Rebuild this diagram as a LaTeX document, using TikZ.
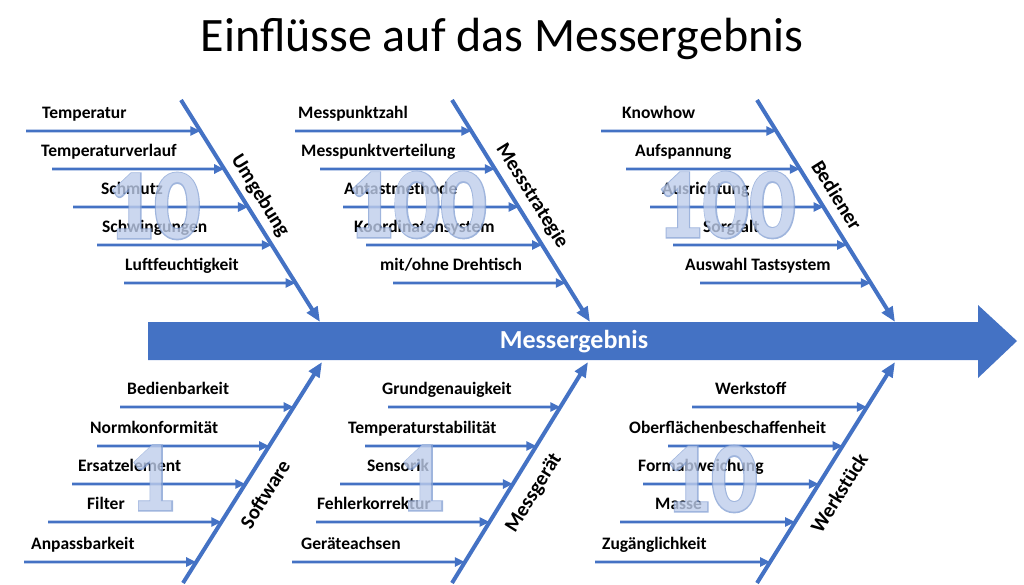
\documentclass[tikz,border=0pt]{standalone}
\usepackage{fontspec}
\setmainfont{Carlito}
\newfontfamily\numfont[BoldFont={Carlito Bold}, BoldFeatures={FakeBold=2.5}]{Carlito}
\usetikzlibrary{arrows.meta,calc}

\definecolor{fishblue}{RGB}{68,114,196}
\definecolor{numfill}{RGB}{190,205,235}
\definecolor{numline}{RGB}{135,162,212}

\tikzset{
  spine/.style={fishblue, line width=4pt, -{Triangle[length=15pt,width=12pt]}},
  cause/.style={fishblue, line width=2.6pt, -{Triangle[length=10pt,width=9pt]}},
  causetext/.style={anchor=base west, inner sep=0pt, font=\bfseries\fontsize{17.5}{19}\selectfont},
  spinetext/.style={inner sep=0pt, font=\bfseries\fontsize{20.5}{22}\selectfont},
  numshape/.style={inner sep=0pt, xscale=0.92, font=\bfseries\fontsize{100}{100}\selectfont},
  numedge/.style={numshape, text=numline, font=\numfont\bfseries\fontsize{100}{100}\selectfont},
  numface/.style={numshape, text=numfill}
}

\begin{document}
\begin{tikzpicture}[x=1pt, y=-1pt]
\useasboundingbox (0,0) rectangle (1024,585);

% title
\node[anchor=base, font=\fontsize{48}{50}\selectfont] (title) at (502,52) {Einflüsse auf das Messergebnis};

% main arrow
\fill[fishblue] (148,322) -- (978,322) -- (978,305) -- (1017,341) -- (978,378) -- (978,360) -- (148,360) -- cycle;
\node[white, inner sep=0pt, font=\bfseries\fontsize{26}{28}\selectfont] (result) at (574,342) {Messergebnis};

% spines
\coordinate (umg-top) at (181,100); \coordinate (umg-tip) at (320,322);
\coordinate (mst-top) at (452,100); \coordinate (mst-tip) at (590,322);
\coordinate (bed-top) at (757,100); \coordinate (bed-tip) at (895,322);
\coordinate (sw-bot) at (183,583); \coordinate (sw-tip) at (322,362);
\coordinate (mg-bot) at (452,583); \coordinate (mg-tip) at (588,362);
\coordinate (ws-bot) at (757,583); \coordinate (ws-tip) at (895,362);

\draw[spine] (umg-top) -- (umg-tip);
\draw[spine] (mst-top) -- (mst-tip);
\draw[spine] (bed-top) -- (bed-tip);
\draw[spine] (sw-bot) -- (sw-tip);
\draw[spine] (mg-bot) -- (mg-tip);
\draw[spine] (ws-bot) -- (ws-tip);

\node[spinetext, rotate=-58] (umg) at (260,196) {Umgebung};
\node[spinetext, rotate=-58] (mst) at (532,196) {Messstrategie};
\node[spinetext, rotate=-58] (bed) at (837,195) {Bediener};
\node[spinetext, rotate=58] (sw) at (265,494) {Software};
\node[spinetext, rotate=58] (mg) at (534,493) {Messgerät};
\node[spinetext, rotate=58] (ws) at (839,493) {Werkstück};

% causes, upper half
\foreach \y/\sx/\lx/\txt [count=\i] in {131/26/42/Temperatur, 169/52/41/Temperaturverlauf,
    207/73/101/Schmutz, 245/97/102/Schwingungen, 283/124/125/Luftfeuchtigkeit}{
  \coordinate (umg-s\i) at (\sx,\y);
  \coordinate (umg-e\i) at ($(umg-top)!{(\y-100)/222}!(umg-tip)$);
  \draw[cause] (umg-s\i) -- (umg-e\i);
  \node[causetext] (umg-l\i) at (\lx,\y-12.5) {\txt};
}
\foreach \y/\sx/\lx/\txt [count=\i] in {131/295/298/Messpunktzahl, 169/320/301/Messpunktverteilung,
    207/343/344/Antastmethode, 245/366/354/Koordinatensystem, 283/393/380/{mit/ohne Drehtisch}}{
  \coordinate (mst-s\i) at (\sx,\y);
  \coordinate (mst-e\i) at ($(mst-top)!{(\y-100)/222}!(mst-tip)$);
  \draw[cause] (mst-s\i) -- (mst-e\i);
  \node[causetext] (mst-l\i) at (\lx,\y-12.5) {\txt};
}
\foreach \y/\sx/\lx/\txt [count=\i] in {131/601/622/Knowhow, 169/626/635/Aufspannung,
    207/650/662/Ausrichtung, 245/673/703/Sorgfalt, 283/700/685/Auswahl Tastsystem}{
  \coordinate (bed-s\i) at (\sx,\y);
  \coordinate (bed-e\i) at ($(bed-top)!{(\y-100)/222}!(bed-tip)$);
  \draw[cause] (bed-s\i) -- (bed-e\i);
  \node[causetext] (bed-l\i) at (\lx,\y-12.5) {\txt};
}

% causes, lower half
\foreach \y/\sx/\lx/\txt [count=\i] in {407/120/127/Bedienbarkeit, 446/97/90/Normkonformität,
    484/72/78/Ersatzelement, 522/48/87/Filter, 562/24/31/Anpassbarkeit}{
  \coordinate (sw-s\i) at (\sx,\y);
  \coordinate (sw-e\i) at ($(sw-bot)!{(583-\y)/221}!(sw-tip)$);
  \draw[cause] (sw-s\i) -- (sw-e\i);
  \node[causetext] (sw-l\i) at (\lx,\y-12.5) {\txt};
}
\foreach \y/\sx/\lx/\txt [count=\i] in {407/388/382/Grundgenauigkeit, 446/365/348/Temperaturstabilität,
    484/340/367/Sensorik, 522/316/317/Fehlerkorrektur, 562/292/301/Geräteachsen}{
  \coordinate (mg-s\i) at (\sx,\y);
  \coordinate (mg-e\i) at ($(mg-bot)!{(583-\y)/221}!(mg-tip)$);
  \draw[cause] (mg-s\i) -- (mg-e\i);
  \node[causetext] (mg-l\i) at (\lx,\y-12.5) {\txt};
}
\foreach \y/\sx/\lx/\txt [count=\i] in {407/692/715/Werkstoff, 446/668/629/Oberflächenbeschaffenheit,
    484/643/638/Formabweichung, 522/620/655/Masse, 562/595/602/Zugänglichkeit}{
  \coordinate (ws-s\i) at (\sx,\y);
  \coordinate (ws-e\i) at ($(ws-bot)!{(583-\y)/221}!(ws-tip)$);
  \draw[cause] (ws-s\i) -- (ws-e\i);
  \node[causetext] (ws-l\i) at (\lx,\y-12.5) {\txt};
}

% weights
\begin{scope}[transparency group, opacity=0.8]
\foreach \name/\px/\py/\num in {umg/154/206/10, mst/417/205/100, bed/726/205/100,
    sw/152/478/1, mg/422/478/1, ws/711/479/10}{
  \node[numedge] (w-\name) at (\px,\py) {\num};
  \node[numface] at (w-\name) {\num};
}
\end{scope}
\end{tikzpicture}
\end{document}
